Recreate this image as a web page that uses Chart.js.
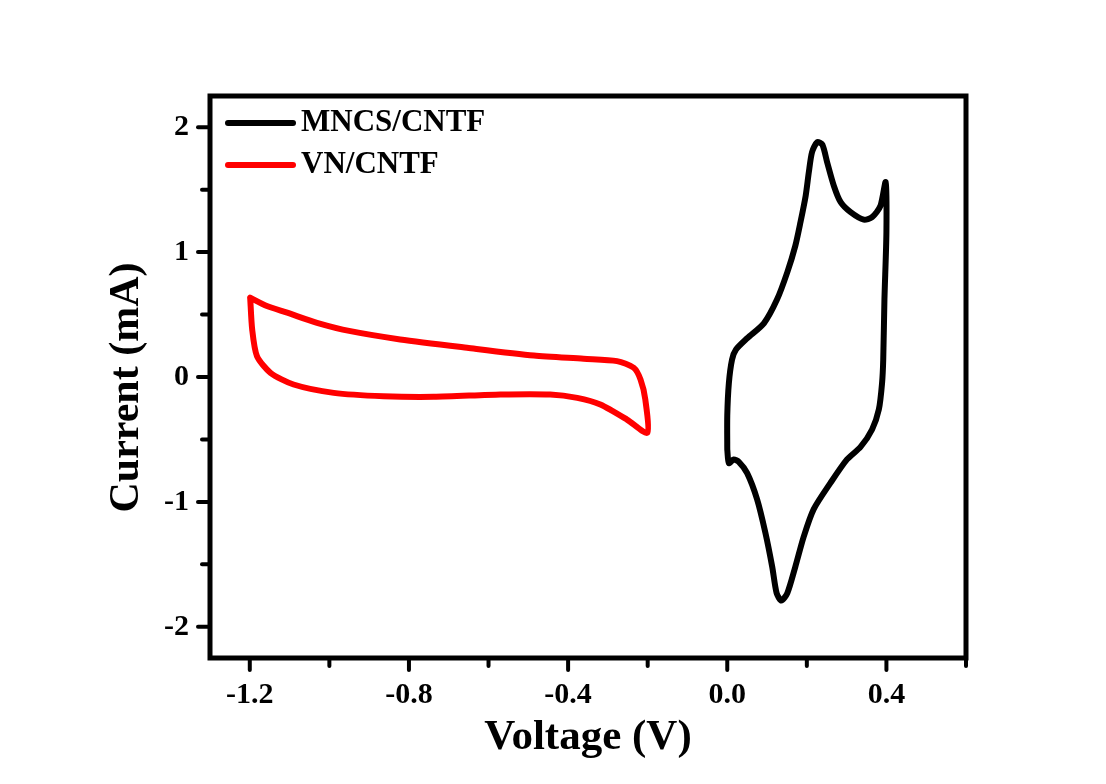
<!DOCTYPE html>
<html>
<head>
<meta charset="utf-8">
<title>CV curves</title>
<script src="https://cdn.jsdelivr.net/npm/chart.js@4.4.1/dist/chart.umd.min.js"></script>
<style>
  html, body { margin: 0; padding: 0; background: #fff; }
</style>
</head>
<body>
<canvas id="cvChart" width="1106" height="784"></canvas>
<script>
// MNCS/CNTF loop (V, mA)
const mncsVoltage = [0.000, 0.000, 0.004, 0.012, 0.022, 0.050, 0.092, 0.125, 0.151, 0.171, 0.184, 0.197, 0.205, 0.213, 0.226, 0.239, 0.251, 0.268, 0.285, 0.310, 0.343, 0.364, 0.385, 0.398, 0.400, 0.395, 0.392, 0.389, 0.381, 0.364, 0.335, 0.301, 0.259, 0.217, 0.192, 0.171, 0.151, 0.136, 0.124, 0.113, 0.096, 0.075, 0.050, 0.029, 0.016, 0.004, 0.000];
const mncsCurrent = [-0.58, -0.31, -0.05, 0.14, 0.22, 0.31, 0.43, 0.62, 0.84, 1.05, 1.24, 1.45, 1.64, 1.80, 1.88, 1.86, 1.72, 1.53, 1.40, 1.32, 1.26, 1.28, 1.37, 1.56, 1.16, 0.62, 0.14, -0.05, -0.26, -0.42, -0.56, -0.66, -0.85, -1.06, -1.28, -1.52, -1.73, -1.79, -1.73, -1.52, -1.25, -0.98, -0.77, -0.68, -0.66, -0.69, -0.58];

// VN/CNTF loop
const vnVoltage = [-1.199, -1.157, -1.106, -1.031, -0.947, -0.822, -0.654, -0.486, -0.361, -0.277, -0.235, -0.218, -0.206, -0.201, -0.252, -0.319, -0.377, -0.445, -0.570, -0.738, -0.864, -0.989, -1.090, -1.148, -1.182, -1.194, -1.199];
const vnCurrent = [0.635, 0.568, 0.515, 0.434, 0.367, 0.301, 0.234, 0.172, 0.146, 0.127, 0.074, -0.020, -0.180, -0.447, -0.341, -0.220, -0.167, -0.140, -0.140, -0.159, -0.154, -0.127, -0.060, 0.034, 0.167, 0.381, 0.635];

const seriesNames = ['MNCS/CNTF', 'VN/CNTF'];
const seriesColors = ['#000000', '#ff0000'];

const xMajorTicks = [-1.2, -0.8, -0.4, 0.0, 0.4];
const xMinorTicks = [-1.0, -0.6, -0.2, 0.2, 0.6];
const yMajorTicks = [-2, -1, 0, 1, 2];
const yMinorTicks = [-1.5, -0.5, 0.5, 1.5];

const serif = '"Liberation Serif", "Times New Roman", serif';

function toPoints(xs, ys) {
    return xs.map((x, i) => ({ x: x, y: ys[i] }));
}

// thick box around the plot + outward tick marks
const framePlugin = {
    id: 'frame',
    afterDraw(chart) {
        const { ctx, chartArea: a, scales } = chart;
        ctx.save();
        ctx.strokeStyle = '#000';
        ctx.lineWidth = 5;
        ctx.strokeRect(a.left, a.top, a.right - a.left, a.bottom - a.top);

        ctx.lineWidth = 4;
        ctx.lineCap = 'round';
        const xTick = (v, len) => {
            const px = scales.x.getPixelForValue(v);
            ctx.beginPath();
            ctx.moveTo(px, a.bottom);
            ctx.lineTo(px, a.bottom + len);
            ctx.stroke();
        };
        const yTick = (v, len) => {
            const py = scales.y.getPixelForValue(v);
            ctx.beginPath();
            ctx.moveTo(a.left, py);
            ctx.lineTo(a.left - len, py);
            ctx.stroke();
        };
        xMajorTicks.forEach(v => xTick(v, 12));
        xMinorTicks.forEach(v => xTick(v, 8));
        yMajorTicks.forEach(v => yTick(v, 12));
        yMinorTicks.forEach(v => yTick(v, 8));
        ctx.restore();
    }
};

// legend drawn inside the plot, top left
const insideLegend = {
    id: 'insideLegend',
    afterDraw(chart) {
        const { ctx, chartArea: a } = chart;
        ctx.save();
        ctx.font = 'bold 31px ' + serif;
        ctx.textBaseline = 'middle';
        ctx.lineCap = 'round';
        chart.data.datasets.forEach((ds, i) => {
            const y = a.top + 27 + i * 42;
            ctx.strokeStyle = ds.borderColor;
            ctx.lineWidth = 6;
            ctx.beginPath();
            ctx.moveTo(a.left + 18, y);
            ctx.lineTo(a.left + 83, y);
            ctx.stroke();
            ctx.fillStyle = '#000';
            ctx.fillText(ds.label, a.left + 91, y);
        });
        ctx.restore();
    }
};

const ctx = document.getElementById('cvChart').getContext('2d');
new Chart(ctx, {
    type: 'scatter',
    plugins: [framePlugin, insideLegend],
    data: {
        datasets: [
            {
                label: seriesNames[0],
                data: toPoints(mncsVoltage, mncsCurrent),
                borderColor: seriesColors[0],
                backgroundColor: seriesColors[0],
            },
            {
                label: seriesNames[1],
                data: toPoints(vnVoltage, vnCurrent),
                borderColor: seriesColors[1],
                backgroundColor: seriesColors[1],
            },
        ],
    },
    options: {
        responsive: false,
        animation: false,
        layout: {
            padding: { left: 80, top: 96, right: 140, bottom: 0 },
        },
        elements: {
            point: { radius: 0, hoverRadius: 0 },
            line: { borderWidth: 6, tension: 0.25, borderCapStyle: 'round', borderJoinStyle: 'round' },
        },
        datasets: {
            scatter: { showLine: true },
        },
        plugins: {
            legend: { display: false },
            tooltip: { enabled: false },
        },
        scales: {
            x: {
                type: 'linear',
                min: -1.3,
                max: 0.6,
                afterBuildTicks: (s) => { s.ticks = xMajorTicks.map(v => ({ value: v })); },
                afterFit: (s) => { s.height = 126; },
                border: { display: false },
                grid: { drawOnChartArea: false, drawTicks: true, tickLength: 12, tickColor: 'rgba(0,0,0,0)' },
                ticks: {
                    padding: 7,
                    color: '#000',
                    font: { family: serif, size: 30, weight: 'bold' },
                    callback: (v) => Number(v).toFixed(1),
                },
                title: {
                    display: true,
                    text: 'Voltage (V)',
                    color: '#000',
                    font: { family: serif, size: 43, weight: 'bold' },
                    padding: { top: 4, bottom: 20 },
                },
            },
            y: {
                type: 'linear',
                min: -2.25,
                max: 2.25,
                afterBuildTicks: (s) => { s.ticks = yMajorTicks.map(v => ({ value: v })); },
                afterFit: (s) => { s.width = 130; },
                border: { display: false },
                grid: { drawOnChartArea: false, drawTicks: true, tickLength: 12, tickColor: 'rgba(0,0,0,0)' },
                ticks: {
                    padding: 9,
                    color: '#000',
                    font: { family: serif, size: 30, weight: 'bold' },
                    callback: (v) => String(v),
                },
                title: {
                    display: true,
                    text: 'Current (mA)  ',
                    color: '#000',
                    font: { family: serif, size: 42, weight: 'bold' },
                    padding: { top: 22, bottom: 4 },
                },
            },
        },
    },
});
</script>
</body>
</html>
